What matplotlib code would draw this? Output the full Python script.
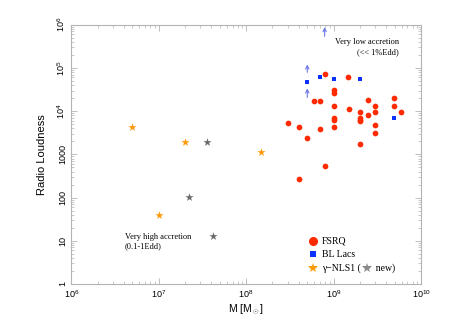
import matplotlib
matplotlib.use("Agg")
import matplotlib.pyplot as plt
import numpy as np

plt.rcParams["font.family"] = ["Liberation Sans", "DejaVu Sans"]
plt.rcParams["mathtext.fontset"] = "custom"
plt.rcParams["mathtext.rm"] = "Liberation Sans"
plt.rcParams["mathtext.it"] = "Liberation Sans:italic"

# FSRQ (black hole mass, radio loudness)
fsrq_mass = [7.9e8, 1.48e9, 1.0e9, 1.0e9, 5.9e8, 6.9e8, 2.5e9, 4.9e9, 1.0e9, 1.49e9,
             3.0e9, 4.9e9, 2.0e9, 3.0e9, 2.5e9, 5.9e9, 1.0e9, 1.0e9, 2.0e9, 2.0e9,
             2.0e9, 3.0e8, 4.0e8, 6.9e8, 1.0e9, 3.0e9, 5.0e8, 3.0e9, 2.0e9, 7.9e8, 4.0e8]
fsrq_rl = [74000, 60000, 30500, 26500, 17300, 16800, 18200, 20000, 13300, 11100,
           13000, 13300, 9300, 9300, 8200, 9300, 6800, 6200, 7000, 6400,
           6000, 5200, 4400, 3900, 4400, 4750, 2400, 3050, 1730, 540, 270]

# BL Lacs
bll_mass = [5.0e8, 6.9e8, 1.0e9, 2.0e9, 4.9e9]
bll_rl = [46000, 62000, 56000, 56000, 7000]

# gamma-ray NLS1
nls1_mass = [5.0e6, 2.0e7, 1.0e7, 1.47e8]
nls1_rl = [4200, 1920, 39, 1130]

# new gamma-ray NLS1
new_mass = [3.6e7, 2.2e7, 4.2e7]
new_rl = [1920, 101, 12.7]

# lower limits (arrows): mass, tail, head
arrow_mass = [7.9e8, 5.0e8, 5.0e8]
arrow_from = [5.4e5, 7.9e4, 2.07e4]
arrow_to = [8.8e5, 1.2e5, 3.35e4]

red = "#ff2a00"
blue = "#0a32ff"
orange = "#ff9a0a"
grey = "#6a6a6a"

fig = plt.figure(figsize=(4.68, 3.31), dpi=100)
ax = fig.add_axes([0.1524, 0.142, 0.7472, 0.7834])
ax.set_xscale("log")
ax.set_yscale("log")
ax.set_xlim(1e6, 1e10)
ax.set_ylim(1, 1e6)

ax.scatter(fsrq_mass, fsrq_rl, s=17, marker="o", color=red, linewidths=0, zorder=3)
ax.scatter(bll_mass, bll_rl, s=12, marker="s", color=blue, linewidths=0, zorder=3)
ax.scatter(nls1_mass, nls1_rl, s=38, marker="*", color=orange, linewidths=0, zorder=3)
ax.scatter(new_mass, new_rl, s=38, marker="*", color=grey, linewidths=0, zorder=3)

for m, y0, y1 in zip(arrow_mass, arrow_from, arrow_to):
    ax.annotate("", xy=(m, y1), xytext=(m, y0),
                arrowprops=dict(arrowstyle="->", color="#6a78e8", lw=0.8,
                                shrinkA=0, shrinkB=0, mutation_scale=6))

serif = ["Liberation Serif", "DejaVu Serif"]
ax.text(5.6e9, 3.0e5, "Very low accretion\n(<< 1%Edd)", ha="right", va="center",
        multialignment="right", fontsize=6, family=serif, linespacing=1.3)
ax.text(4.1e6, 9.5, "Very high accretion\n(0.1-1Edd)", ha="left", va="center",
        multialignment="left", fontsize=6, family=serif, linespacing=1.3)

# legend
lx = 0.692
ax.plot([lx], [0.164], "o", color=red, ms=6.5, mew=0, transform=ax.transAxes, clip_on=False)
ax.plot([lx], [0.114], "s", color=blue, ms=4.5, mew=0, transform=ax.transAxes, clip_on=False)
ax.plot([lx], [0.061], "*", color=orange, ms=7, mew=0, transform=ax.transAxes, clip_on=False)
ax.text(0.716, 0.164, "FSRQ", transform=ax.transAxes, va="center", fontsize=7, family=serif)
ax.text(0.716, 0.114, "BL Lacs", transform=ax.transAxes, va="center", fontsize=7, family=serif)
ax.text(0.716, 0.061, "\u03b3\u2212NLS1 (      new)", transform=ax.transAxes, va="center",
        fontsize=7, family=serif)
ax.plot([0.8465], [0.061], "*", color="#8a8a8a", ms=7, mew=0, transform=ax.transAxes, clip_on=False)

# axes styling
for sp in ax.spines.values():
    sp.set_color("#b4b4b4")
    sp.set_linewidth(0.8)
ax.tick_params(which="both", direction="in", top=True, right=True, color="#b4b4b4")
ax.tick_params(which="major", length=4, width=0.6, labelsize=6.5, pad=3)
ax.tick_params(which="minor", length=2, width=0.5)

xticks = [1e6, 1e7, 1e8, 1e9, 1e10]
xlabels = ["$10^6$", "$10^7$", "$10^8$", "$10^9$", "$10^{10}$"]
yticks = [1, 10, 100, 1000, 1e4, 1e5, 1e6]
ylabels = ["1", "10", "100", "1000", "$10^4$", "$10^5$", "$10^6$"]
ax.set_xticks(xticks)
ax.set_xticklabels(xlabels)
ax.set_yticks(yticks)
ax.set_yticklabels(ylabels, rotation=90, va="center")

ax.set_xlabel(r"M [M$_\odot$]", fontsize=7.5, labelpad=2)
ax.set_ylabel("Radio Loudness", fontsize=8, labelpad=6)

fig.savefig("out.png", dpi=100)
